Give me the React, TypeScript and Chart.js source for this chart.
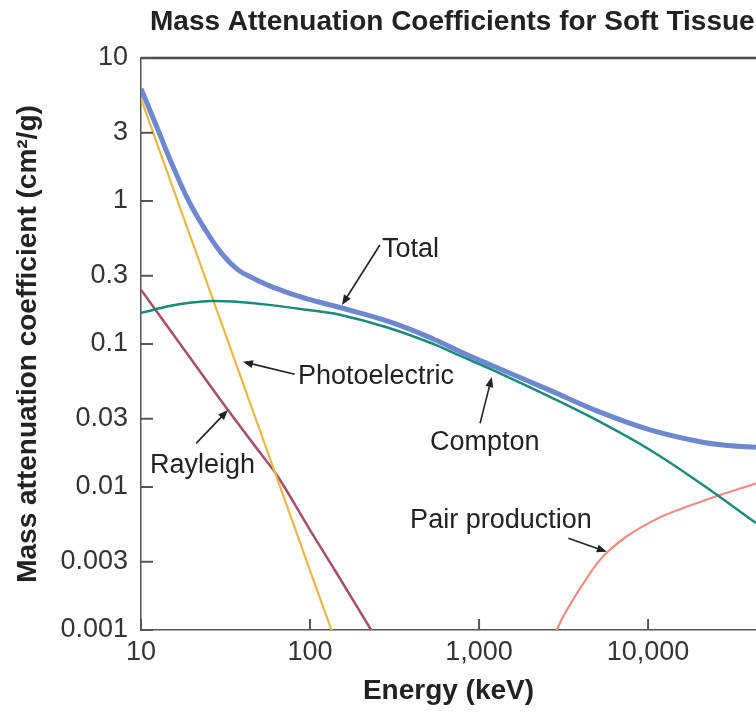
import React, { useEffect, useRef } from "react";
import { Chart, registerables } from "chart.js";

Chart.register(...registerables);

const FONT = "'Liberation Sans', Arial, Helvetica, sans-serif";

const chartTitle = "Mass Attenuation Coefficients for Soft Tissue";
const xAxisTitle = "Energy (keV)";
const yAxisTitle = "Mass attenuation coefficient (cm\u00B2/g)";

const xTickValues = [10, 100, 1000, 10000];
const xTickLabels = ["10", "100", "1,000", "10,000"];
const yTickValues = [10, 3, 1, 0.3, 0.1, 0.03, 0.01, 0.003, 0.001];
const yTickLabels = ["10", "3", "1", "0.3", "0.1", "0.03", "0.01", "0.003", "0.001"];
const xMin = 10;
const xMax = 43500;
const yMin = 0.001;
const yMax = 10;

// Total
const totalEnergy = [10, 12.6, 15, 19, 24, 30, 37.5, 47, 59, 93, 150, 300, 540, 770, 1200, 2630, 5200, 10280, 20320, 29700, 43500];
const totalValues = [6.1, 3.15, 1.9, 1.02, 0.63, 0.43, 0.33, 0.285, 0.252, 0.209, 0.18, 0.142, 0.108, 0.0887, 0.0705, 0.0474, 0.0334, 0.0251, 0.0207, 0.0195, 0.019];

// Compton
const comptonEnergy = [10, 15, 20, 26, 35, 59, 100, 150, 290, 540, 770, 1200, 2630, 5200, 10280, 20320, 43500];
const comptonValues = [0.165, 0.185, 0.195, 0.2, 0.198, 0.187, 0.172, 0.16, 0.13, 0.0998, 0.0828, 0.0659, 0.0426, 0.0285, 0.01815, 0.01066, 0.0056];

// Photoelectric
const photoEnergy = [10, 15, 20, 30, 40, 60, 80, 100, 134, 150];
const photoValues = [5.2, 1.36, 0.528, 0.139, 0.0536, 0.0141, 0.00545, 0.0026, 0.001, 0.00068];

// Rayleigh
const rayleighEnergy = [10, 20, 32.7, 50, 64.6, 100, 150, 230, 260];
const rayleighValues = [0.24, 0.077, 0.0345, 0.0177, 0.0118, 0.005, 0.0023, 0.001, 0.0008];

// Pair production
const pairEnergy = [2630, 2881, 3155, 4144, 5692, 10275, 20310, 43550];
const pairValues = [0.00078, 0.001, 0.00125, 0.00212, 0.00347, 0.00566, 0.00785, 0.0106];

// Annotation labels (placed in data coordinates: [energy, coefficient])
const annotationLabels = ["Total", "Photoelectric", "Compton", "Rayleigh", "Pair production"];
const annotationTextAt = [[266.6, 0.405], [84.9, 0.0525], [513, 0.01815], [11.3, 0.01259], [391, 0.00514]];
const annotationArrowFrom = [[259, 0.492], [81.1, 0.0614], [1014, 0.0279], [21.2, 0.0202], [3374, 0.00438]];
const annotationArrowTo = [[154.5, 0.1875], [40.1, 0.0752], [1189, 0.0587], [32.7, 0.0345], [5700, 0.00352]];

const zip = (xs: number[], ys: number[]) => xs.map((x, i) => ({ x, y: ys[i] }));

export default function App() {
  const ref = useRef<HTMLCanvasElement>(null);

  useEffect(() => {
    const canvas = ref.current;
    if (!canvas) return;

    const decor = {
      id: "decor",
      afterDraw(chart: any) {
        const { ctx, chartArea: a, scales } = chart;
        const xs = scales.x;
        const ys = scales.y;
        ctx.save();
        // top frame line
        ctx.strokeStyle = "#4a4a4a";
        ctx.lineWidth = 2.5;
        ctx.beginPath();
        ctx.moveTo(a.left, a.top);
        ctx.lineTo(a.right, a.top);
        ctx.stroke();
        // inward tick marks
        ctx.strokeStyle = "#555";
        ctx.lineWidth = 2;
        ys.ticks.forEach((t: any) => {
          const py = ys.getPixelForValue(t.value);
          ctx.beginPath();
          ctx.moveTo(a.left, py);
          ctx.lineTo(a.left + 12, py);
          ctx.stroke();
        });
        xs.ticks.forEach((t: any) => {
          const px = xs.getPixelForValue(t.value);
          ctx.beginPath();
          ctx.moveTo(px, a.bottom);
          ctx.lineTo(px, a.bottom - 11);
          ctx.stroke();
        });
        // chart title
        ctx.fillStyle = "#222";
        ctx.font = `bold 28px ${FONT}`;
        ctx.textAlign = "left";
        ctx.textBaseline = "alphabetic";
        ctx.fillText(chartTitle, a.left + 9, 30);
        // annotations
        ctx.font = `27px ${FONT}`;
        ctx.fillStyle = "#222";
        ctx.strokeStyle = "#222";
        ctx.lineWidth = 1.6;
        annotationLabels.forEach((label, i) => {
          const tx = xs.getPixelForValue(annotationTextAt[i][0]);
          const ty = ys.getPixelForValue(annotationTextAt[i][1]);
          ctx.fillText(label, tx, ty);
          const x1 = xs.getPixelForValue(annotationArrowFrom[i][0]);
          const y1 = ys.getPixelForValue(annotationArrowFrom[i][1]);
          const x2 = xs.getPixelForValue(annotationArrowTo[i][0]);
          const y2 = ys.getPixelForValue(annotationArrowTo[i][1]);
          const ang = Math.atan2(y2 - y1, x2 - x1);
          const len = 10;
          const w = 4;
          ctx.beginPath();
          ctx.moveTo(x1, y1);
          ctx.lineTo(x2 - Math.cos(ang) * len * 0.7, y2 - Math.sin(ang) * len * 0.7);
          ctx.stroke();
          ctx.beginPath();
          ctx.moveTo(x2, y2);
          ctx.lineTo(x2 - len * Math.cos(ang) + w * Math.sin(ang), y2 - len * Math.sin(ang) - w * Math.cos(ang));
          ctx.lineTo(x2 - len * Math.cos(ang) - w * Math.sin(ang), y2 - len * Math.sin(ang) + w * Math.cos(ang));
          ctx.closePath();
          ctx.fill();
        });
        ctx.restore();
      },
    };

    const chart = new Chart(canvas, {
      type: "line",
      data: {
        datasets: [
          { label: "Total", data: zip(totalEnergy, totalValues), borderColor: "#6d88cf", borderWidth: 5 },
          { label: "Compton", data: zip(comptonEnergy, comptonValues), borderColor: "#1a8a7a", borderWidth: 2.5 },
          { label: "Photoelectric", data: zip(photoEnergy, photoValues), borderColor: "#e8b84c", borderWidth: 2.2 },
          { label: "Rayleigh", data: zip(rayleighEnergy, rayleighValues), borderColor: "#a5506a", borderWidth: 2.5 },
          { label: "Pair production", data: zip(pairEnergy, pairValues), borderColor: "#f08c80", borderWidth: 2.2 },
        ],
      },
      options: {
        animation: false,
        responsive: true,
        maintainAspectRatio: false,
        layout: { padding: { top: 58, left: 0, right: 0, bottom: 0 } },
        elements: {
          point: { radius: 0 },
          line: { tension: 0.4, fill: false, capBezierPoints: true },
        },
        plugins: {
          legend: { display: false },
          tooltip: { enabled: false },
          title: { display: false },
        },
        scales: {
          x: {
            type: "logarithmic",
            position: "bottom",
            min: xMin,
            max: xMax,
            afterBuildTicks: (s: any) => {
              s.ticks = xTickValues.map((v) => ({ value: v }));
            },
            afterFit: (s: any) => {
              s.height = 82;
            },
            grid: { display: false, drawTicks: false },
            border: { display: true, color: "#555", width: 1.5 },
            ticks: {
              autoSkip: false,
              maxRotation: 0,
              minRotation: 0,
              padding: 6,
              color: "#333",
              font: { family: FONT, size: 27 },
              callback: (v: any) => {
                const i = xTickValues.indexOf(Number(v));
                return i >= 0 ? xTickLabels[i] : "";
              },
            },
            title: {
              display: true,
              text: xAxisTitle,
              color: "#222",
              font: { family: FONT, size: 28, weight: "bold" },
              padding: { top: 0, bottom: 4 },
            },
          },
          y: {
            type: "logarithmic",
            position: "left",
            min: yMin,
            max: yMax,
            afterBuildTicks: (s: any) => {
              s.ticks = yTickValues.map((v) => ({ value: v }));
            },
            afterFit: (s: any) => {
              s.width = 141;
            },
            grid: { display: false, drawTicks: false },
            border: { display: true, color: "#555", width: 1.5 },
            ticks: {
              autoSkip: false,
              padding: 13,
              color: "#333",
              font: { family: FONT, size: 27 },
              callback: (v: any) => {
                const i = yTickValues.indexOf(Number(v));
                return i >= 0 ? yTickLabels[i] : "";
              },
            },
            title: {
              display: true,
              text: yAxisTitle,
              color: "#222",
              font: { family: FONT, size: 28, weight: "bold" },
              padding: { top: 11.5, bottom: 0 },
            },
          },
        },
      },
      plugins: [decor],
    } as any);

    return () => chart.destroy();
  }, []);

  return (
    <div style={{ position: "fixed", left: 0, top: 0, width: 756, height: 712, background: "#fff" }}>
      <canvas ref={ref} />
    </div>
  );
}
